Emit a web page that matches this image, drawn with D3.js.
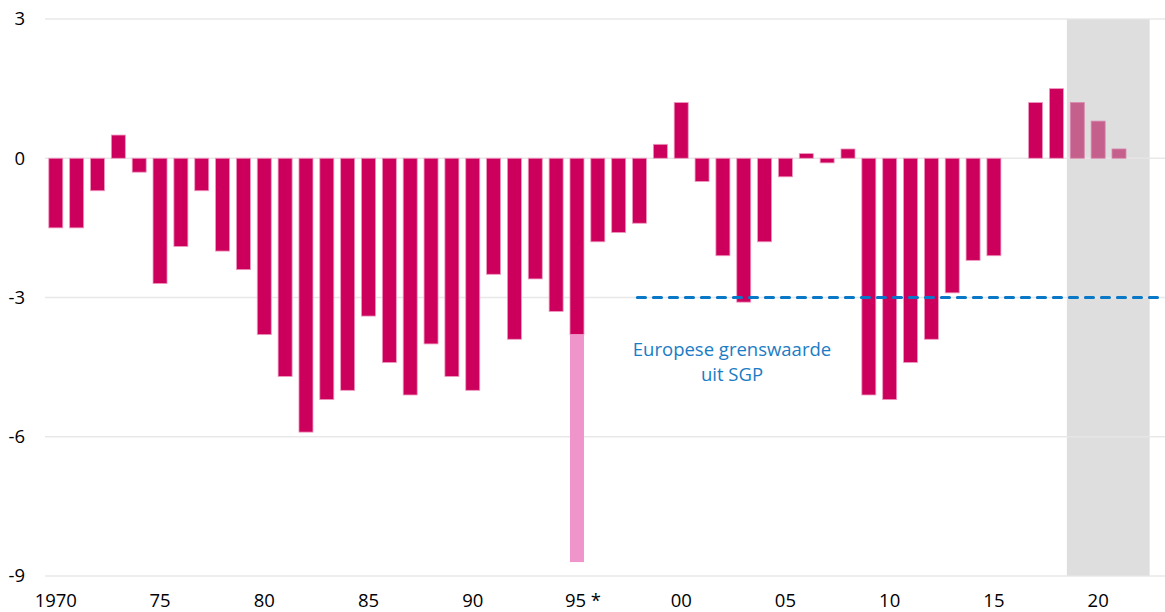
<!DOCTYPE html>
<html><head><meta charset="utf-8">
<script src="https://cdn.jsdelivr.net/npm/d3@7"></script>
<style>body{margin:0;background:#fff}svg{display:block;font-family:"Open Sans","Noto Sans",sans-serif}</style>
</head><body><svg id="c" width="1165" height="612"></svg>
<script>
const years = d3.range(1970, 2022);
const values = [-1.5,-1.5,-0.7,0.5,-0.3,-2.7,-1.9,-0.7,-2.0,-2.4,
  -3.8,-4.7,-5.9,-5.2,-5.0,-3.4,-4.4,-5.1,-4.0,-4.7,
  -5.0,-2.5,-3.9,-2.6,-3.3,-3.8,-1.8,-1.6,-1.4,0.3,
  1.2,-0.5,-2.1,-3.1,-1.8,-0.4,0.1,-0.1,0.2,-5.1,
  -5.2,-4.4,-3.9,-2.9,-2.2,-2.1,0,1.2,1.5,1.2,
  0.8,0.2];
const forecastFrom = 2019;
const extraYear = 1995, extraFrom = -3.8, extraTo = -8.7;
const yTicks = [3,0,-3,-6,-9];
const xTickYears = [1970,1975,1980,1985,1990,1995,2000,2005,2010,2015,2020];
const xTickLabels = ["1970","75","80","85","90","95 *","00","05","10","15","20"];
const limitValue = -3, limitFrom = 1997.9, limitTo = 2023.05;
const shadeFrom = 2018.5, shadeTo = 2022.47;
const labelLines = ["Europese grenswaarde","uit SGP"];

const svg = d3.select("#c");
const x = d3.scaleLinear().domain([1970, 2021]).range([55.8, 1119]);
const y = d3.scaleLinear().domain([3, -9]).range([19, 576]);
const bw = 14;

// shade
svg.append("rect").attr("x", x(shadeFrom)).attr("y", y(3)).attr("width", x(shadeTo)-x(shadeFrom))
  .attr("height", y(-9)-y(3)).attr("fill", "#dedede");

// grid
svg.append("g").selectAll("line").data(yTicks).join("line")
  .attr("x1", 45).attr("x2", 1165).attr("y1", d=>y(d)).attr("y2", d=>y(d))
  .attr("stroke", "#e6e6e6").attr("stroke-width", 1.5).attr("stroke-opacity", 0.9);

// y labels
svg.append("g").selectAll("text").data(yTicks).join("text")
  .attr("x", 25).attr("y", d=>y(d)).attr("dy", "0.35em").attr("text-anchor", "end")
  .attr("font-size", 18.5).attr("fill", "#000").text(d=>d);

// x labels
svg.append("g").selectAll("text").data(xTickYears).join("text")
  .attr("x", (d,i)=> x(d) + (i===5 ? 6 : 0)).attr("y", 607).attr("text-anchor", "middle")
  .attr("font-size", 18.5).attr("fill", "#000").text((d,i)=>xTickLabels[i]);

// bars
const data = years.map((yr,i)=>({yr, v: values[i]})).filter(d=>d.v!==0);
svg.append("g").selectAll("rect").data(data).join("rect")
  .attr("x", d=>x(d.yr)-bw/2).attr("width", bw)
  .attr("y", d=>y(Math.max(0,d.v))).attr("height", d=>Math.abs(y(d.v)-y(0)))
  .attr("fill", d=> d.yr>=forecastFrom ? "#c5608c" : "#cc005c")
  .attr("stroke", d=> d.yr>=forecastFrom ? "#d98aae" : "#ee98bf").attr("stroke-width", 0.8);

// extension 1995
svg.append("rect").attr("x", x(extraYear)-bw/2).attr("width", bw)
  .attr("y", y(extraFrom)).attr("height", y(extraTo)-y(extraFrom)).attr("fill", "#f094cc");

// limit line
svg.append("line").attr("x1", x(limitFrom)).attr("x2", x(limitTo))
  .attr("y1", y(limitValue)).attr("y2", y(limitValue))
  .attr("stroke", "#0a78c8").attr("stroke-width", 3.2)
  .attr("stroke-dasharray", "8,8").attr("stroke-linecap", "round");

// label
svg.append("g").selectAll("text").data(labelLines).join("text")
  .attr("x", 732).attr("y", (d,i)=>356 + i*25).attr("text-anchor", "middle")
  .attr("font-size", 18.5).attr("fill", "#1a7cc4").text(d=>d);
</script></body></html>
